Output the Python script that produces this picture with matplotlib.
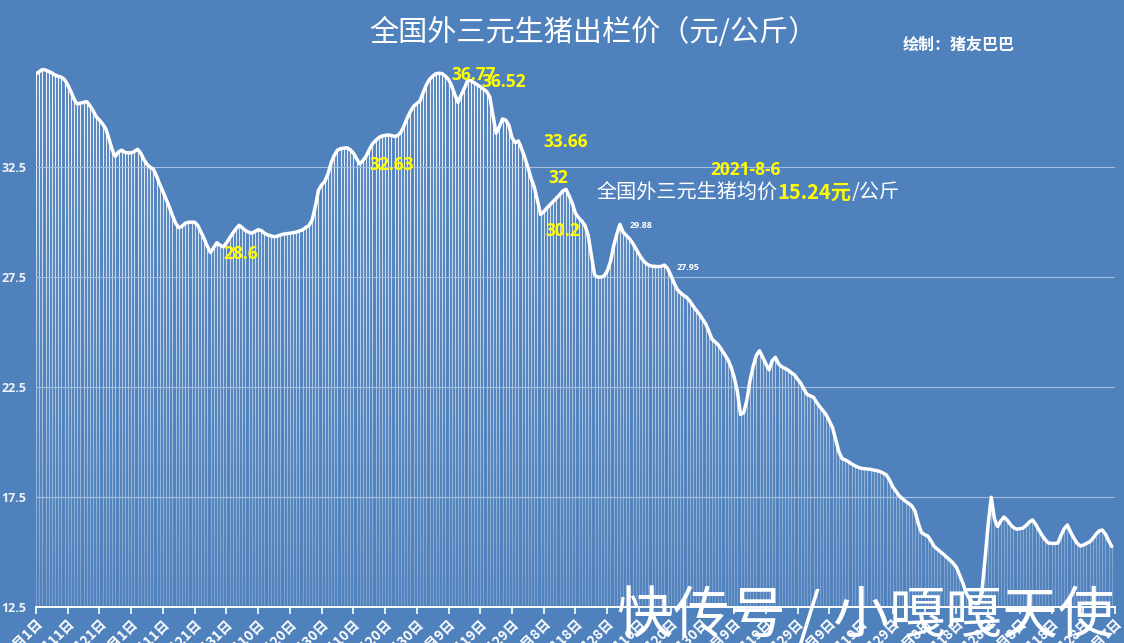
import matplotlib
matplotlib.use('Agg')
import matplotlib.pyplot as plt
import numpy as np
import pandas as pd
from matplotlib.colors import to_rgb

plt.rcParams['font.family'] = ['Noto Sans CJK SC', 'DejaVu Sans']

# ---------------- data ----------------
start_date = '2020-09-01'
prices = [
    36.75, 36.85, 36.95, 36.93, 36.86, 36.80, 36.70, 36.64, 36.60, 36.49,
    36.25, 35.95, 35.60, 35.38, 35.42, 35.46, 35.49, 35.30, 35.08, 34.80,
    34.65, 34.47, 34.25, 33.80, 33.30, 33.00, 33.20, 33.28, 33.18, 33.16,
    33.16, 33.22, 33.32, 33.15, 32.85, 32.63, 32.50, 32.41, 32.10, 31.72,
    31.40, 31.05, 30.70, 30.30, 29.95, 29.75, 29.82, 29.95, 30.00, 30.00,
    30.00, 29.85, 29.55, 29.25, 28.90, 28.62, 28.85, 29.07, 28.95, 28.88,
    29.05, 29.28, 29.50, 29.70, 29.86, 29.75, 29.62, 29.55, 29.50, 29.58,
    29.66, 29.62, 29.50, 29.42, 29.38, 29.34, 29.36, 29.42, 29.46, 29.48,
    29.50, 29.52, 29.55, 29.60, 29.65, 29.76, 29.85, 30.10, 30.70, 31.45,
    31.70, 31.86, 32.20, 32.70, 33.05, 33.28, 33.35, 33.37, 33.39, 33.30,
    33.15, 32.90, 32.65, 32.80, 33.00, 33.30, 33.56, 33.72, 33.85, 33.92,
    33.95, 33.97, 33.95, 33.90, 33.95, 34.10, 34.40, 34.75, 35.05, 35.28,
    35.40, 35.52, 35.90, 36.25, 36.50, 36.65, 36.76, 36.78, 36.76, 36.65,
    36.50, 36.20, 35.80, 35.45, 35.80, 36.10, 36.45, 36.45, 36.35, 36.26,
    36.17, 36.06, 35.95, 35.70, 34.85, 34.05, 34.35, 34.70, 34.65, 34.42,
    33.85, 33.62, 33.70, 33.35, 32.95, 32.50, 32.00, 31.60, 31.00, 30.35,
    30.48, 30.65, 30.80, 30.95, 31.10, 31.25, 31.42, 31.50, 31.20, 30.85,
    30.40, 30.20, 30.05, 29.85, 29.40, 28.50, 27.60, 27.50, 27.50, 27.55,
    27.78, 28.20, 28.90, 29.45, 29.90, 29.55, 29.40, 29.25, 29.05, 28.80,
    28.55, 28.32, 28.15, 28.05, 28.00, 27.99, 27.98, 27.99, 28.05, 27.90,
    27.60, 27.25, 26.95, 26.80, 26.68, 26.58, 26.42, 26.20, 26.00, 25.82,
    25.60, 25.38, 25.05, 24.68, 24.55, 24.42, 24.20, 23.98, 23.75, 23.42,
    22.95, 22.30, 21.25, 21.33, 21.90, 22.80, 23.45, 23.95, 24.15, 23.85,
    23.55, 23.28, 23.70, 23.85, 23.55, 23.42, 23.35, 23.27, 23.15, 23.05,
    22.85, 22.67, 22.40, 22.16, 22.10, 22.03, 21.80, 21.60, 21.42, 21.23,
    20.95, 20.65, 20.10, 19.55, 19.24, 19.18, 19.10, 19.00, 18.92, 18.85,
    18.80, 18.78, 18.77, 18.75, 18.72, 18.69, 18.65, 18.58, 18.49, 18.25,
    17.95, 17.75, 17.55, 17.42, 17.30, 17.20, 17.08, 16.85, 16.30, 15.88,
    15.78, 15.72, 15.50, 15.25, 15.12, 15.00, 14.88, 14.75, 14.62, 14.48,
    14.30, 13.95, 13.60, 13.15, 12.90, 12.70, 12.65, 12.65, 13.10, 14.60,
    16.20, 17.48, 16.50, 16.15, 16.40, 16.58, 16.45, 16.25, 16.10, 16.03,
    16.05, 16.08, 16.20, 16.35, 16.45, 16.25, 16.00, 15.75, 15.55, 15.40,
    15.38, 15.38, 15.40, 15.75, 16.05, 16.22, 15.90, 15.63, 15.40, 15.27,
    15.30, 15.38, 15.45, 15.60, 15.80, 15.95, 15.99, 15.80, 15.50, 15.24,
]

y_ticks = [12.5, 17.5, 22.5, 27.5, 32.5]
tick_step_days = 10
n_ticks = 35

title = '全国外三元生猪出栏价（元/公斤）'
credit = '绘制：猪友巴巴'

# yellow point labels: text, date, value
yellow_labels = ['36.77', '36.52', '32.63', '33.66', '32', '30.2', '28.6']
yellow_dates = ['2021-01-17', '2021-01-26 05:00', '2020-12-22', '2021-02-15',
                '2021-02-12 12:00', '2021-02-13 20:00', '2020-11-04 10:00']
yellow_values = [36.70, 36.38, 32.62, 33.65, 32.01, 29.60, 28.55]

# small white point labels
white_labels = ['29.88', '27.95']
white_dates = ['2021-03-10 17:00', '2021-03-25 12:00']
white_values = [29.87, 27.96]

note_date_text = '2021-8-6'
note_date_pos = ('2021-04-12 10:00', 32.36)
note_parts = ['全国外三元生猪均价', '15.24元', '/公斤']
note_pos = ('2021-02-24 16:00', 31.35)

watermark = '快传号 / 小嘎嘎天使'

# ---------------- style ----------------
BG = '#4F81BD'
YELLOW = '#FFFF00'
LATIN = ['Open Sans', 'DejaVu Sans']

dates = pd.date_range(start_date, periods=len(prices), freq='D')
tick_dates = pd.date_range(start_date, periods=n_ticks, freq=f'{tick_step_days}D')
tick_labels = [f'{d.month}月{d.day}日' for d in tick_dates]

W, H = 1124, 643
fig = plt.figure(figsize=(W / 100, H / 100), dpi=100, facecolor=BG)
ax_left, ax_right = 36, 1115
ax_bottom, ax_top = 606.7, 64
ax = fig.add_axes([ax_left / W, (H - ax_bottom) / H,
                   (ax_right - ax_left) / W, (ax_bottom - ax_top) / H])
ax.set_facecolor(BG)

ymin = 12.5
ymax = 12.5 + (ax_bottom - ax_top) / 21.97

# drop lines
ax.vlines(dates, ymin, prices, colors='white', linewidth=0.85, alpha=0.95, zorder=2)

# fading of the drop lines towards the bottom (background-coloured gradient)
grad = np.zeros((256, 1, 4))
grad[..., :3] = to_rgb(BG)
grad[:, 0, 3] = np.linspace(0.0, 0.78, 256) ** 1.1
ax.imshow(grad, extent=[0, 1, 0, 1], transform=ax.transAxes, aspect='auto',
          origin='upper', zorder=2.5, interpolation='bilinear')

# horizontal grid lines
for yv in y_ticks[1:]:
    ax.axhline(yv, color='#A3BEDF', linewidth=0.8, zorder=3)

# main line
ax.plot(dates, prices, color='white', linewidth=2.5, solid_joinstyle='round',
        solid_capstyle='round', zorder=4)

ax.set_ylim(ymin, ymax)
ax.set_xlim(tick_dates[0], tick_dates[-1])

ax.set_yticks(y_ticks)
ax.set_yticklabels([f'{v:.1f}' for v in y_ticks])
ax.tick_params(axis='y', length=0, pad=7, labelsize=9, labelcolor='#F0F4FA')
for lab in ax.get_yticklabels():
    lab.set_fontweight('bold')
    lab.set_family(LATIN)

for s in ['top', 'right', 'left']:
    ax.spines[s].set_visible(False)
ax.spines['bottom'].set_color('white')
ax.spines['bottom'].set_linewidth(1.4)
ax.spines['bottom'].set_zorder(5)

ax.set_xticks(tick_dates)
ax.set_xticklabels(tick_labels)
ax.tick_params(axis='x', direction='out', length=5, width=1.2, color='white',
               labelcolor='white', labelsize=10, pad=2)
for lab in ax.get_xticklabels():
    lab.set_rotation(45)
    lab.set_ha('right')
    lab.set_va('top')
    lab.set_rotation_mode('anchor')
    lab.set_fontweight('bold')

# titles
fig.text(593 / W, 1 - 33 / H, title, ha='center', va='center', fontsize=21,
         color='white')
fig.text(959 / W, 1 - 45 / H, credit, ha='center', va='center', fontsize=11.5,
         color='white', fontweight='bold')

# point labels
for t, d, v in zip(yellow_labels, yellow_dates, yellow_values):
    ax.text(pd.Timestamp(d), v, t, ha='center', va='center', fontsize=12.5,
            color=YELLOW, fontweight='bold', zorder=6, family=LATIN)
for t, d, v in zip(white_labels, white_dates, white_values):
    ax.text(pd.Timestamp(d), v, t, ha='center', va='center', fontsize=6.5,
            color='white', fontweight='bold', zorder=6, family=LATIN)

ax.text(pd.Timestamp(note_date_pos[0]), note_date_pos[1], note_date_text,
        ha='center', va='center', fontsize=12.5, color=YELLOW, fontweight='bold',
        zorder=6, family=LATIN)
t1 = ax.text(pd.Timestamp(note_pos[0]), note_pos[1], note_parts[0], ha='left',
             va='center', fontsize=14.5, color='white', zorder=6)
t2 = ax.annotate(note_parts[1], xy=(1, 0), xycoords=t1, ha='left', va='bottom',
                 fontsize=14.5, color=YELLOW, fontweight='bold', zorder=6)
t3 = ax.annotate(note_parts[2], xy=(1, 0), xycoords=t2, ha='left', va='bottom',
                 fontsize=14.5, color='white', zorder=6)

# watermark overlay
fig.text(617 / W, 1 - 633 / H, watermark, ha='left', va='baseline', fontsize=40.5,
         color='white', zorder=10)

fig.savefig('out.png', dpi=100, facecolor=BG)
